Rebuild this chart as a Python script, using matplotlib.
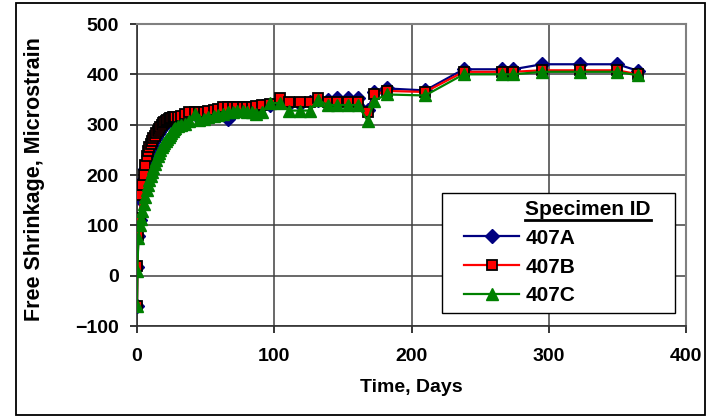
import matplotlib
matplotlib.use("Agg")
import matplotlib.pyplot as plt
from matplotlib.lines import Line2D
from matplotlib.patches import Rectangle

plt.rcParams['font.family'] = ['Liberation Sans', 'DejaVu Sans']

# days of reading
days = [0, 0.3, 1, 2, 3, 4, 5, 6, 7, 8, 9, 10, 11, 12, 13, 14, 15, 16, 17, 18,
        19, 20, 21, 22, 23, 24, 25, 26, 27, 28,
        30, 32, 35, 38, 42, 45, 49, 52, 56, 59, 63, 66, 70, 73, 77, 80, 84, 87, 91, 97,
        104, 111, 119, 126, 132, 139, 146, 154, 161, 168, 173, 182,
        210, 238, 266, 274, 295, 323, 350, 365]

s407A = [-60, 18, 78, 110, 150, 172, 192, 212, 228, 238, 246, 253, 260, 266, 271, 276, 281, 286, 290, 294,
         297, 300, 303, 305, 307, 309, 310, 311, 312, 313,
         314, 316, 318, 320, 322, 323, 324, 325, 326, 328, 330, 312, 332, 332, 333, 333, 334, 336, 338, 340,
         348, 342, 342, 345, 350, 350, 352, 352, 352, 330, 365, 372,
         368, 410, 410, 410, 420, 420, 420, 407]

s407B = [-60, 20, 80, 115, 160, 180, 200, 220, 238, 248, 255, 262, 268, 273, 278, 283, 288, 292, 296, 300,
         303, 306, 308, 310, 312, 313, 314, 315, 315, 316,
         316, 318, 322, 325, 325, 325, 325, 328, 330, 332, 335, 335, 335, 335, 335, 335, 335, 338, 340, 342,
         352, 345, 345, 345, 352, 345, 345, 345, 345, 325, 360, 367,
         365, 405, 405, 405, 408, 408, 408, 400]

s407C = [-60, 10, 75, 100, 112, 128, 143, 157, 170, 180, 190, 198, 206, 214, 222, 230, 237, 244, 250, 255,
         260, 264, 268, 272, 276, 280, 284, 288, 291, 294,
         297, 300, 302, 308, 322, 310, 312, 315, 318, 320, 322, 325, 325, 328, 328, 325, 325, 322, 325, 343,
         343, 328, 328, 328, 349, 339, 339, 339, 339, 308, 348, 360,
         358, 400, 400, 400, 405, 405, 405, 398]

styleA = dict(color='#000080', lw=1.6, marker='D', ms=7, mfc='#000080', mec='#000080')
styleB = dict(color='red', lw=1.6, marker='s', ms=7, mfc='red', mec='black', mew=1.3)
styleC = dict(color='#008000', lw=1.6, marker='^', ms=8.5, mfc='#008000', mec='#008000')

fig = plt.figure(figsize=(7.1, 4.19), dpi=100)
ax = fig.add_axes([137/710, 1-326/419, (686-137)/710, (326-24)/419])

ax.plot(days, s407A, label='407A', zorder=3, **styleA)
ax.plot(days, s407B, label='407B', zorder=4, **styleB)
ax.plot(days, s407C, label='407C', zorder=5, **styleC)

ax.set_xlim(0, 400)
ax.set_ylim(-100, 500)
ax.set_xticks([0, 100, 200, 300, 400])
ax.set_yticks([-100, 0, 100, 200, 300, 400, 500])
ax.grid(True, color='#404040', lw=1.1)
ax.set_axisbelow(True)
for side in ['top', 'right']:
    ax.spines[side].set_color('#808080')
    ax.spines[side].set_linewidth(1.5)
for side in ['left', 'bottom']:
    ax.spines[side].set_color('#303030')
    ax.spines[side].set_linewidth(1.2)
ax.tick_params(axis='y', direction='out', length=5, width=1.1, pad=8, labelsize=14)
ax.tick_params(axis='x', direction='out', length=5, width=1.1, pad=11, labelsize=14)
for t in ax.get_xticklabels() + ax.get_yticklabels():
    t.set_fontweight('bold')

ax.set_xlabel('Time, Days', fontsize=14, fontweight='bold')
ax.set_ylabel('Free Shrinkage, Microstrain', fontsize=15.5, fontweight='bold')
ax.xaxis.set_label_coords(0.5, -0.175)
ax.yaxis.set_label_coords(-0.168, 0.485)

# legend box drawn by hand, entries placed inside
fig.add_artist(Rectangle((442/710, 1-313/419), (675-442)/710, (313-193)/419, facecolor='white',
                         edgecolor='black', lw=1.0, transform=fig.transFigure, zorder=8))
blank = Line2D([], [], linestyle='none')
leg = fig.legend([blank, Line2D([], [], **styleA), Line2D([], [], **styleB), Line2D([], [], **styleC)],
                 ['Specimen ID', '407A', '407B', '407C'],
                 loc='upper left', bbox_to_anchor=(464/710, 1-200/419), borderaxespad=0,
                 prop={'weight': 'bold', 'size': 15}, handlelength=2.65, handletextpad=0.3,
                 labelspacing=0.47, borderpad=0, frameon=False)
leg.set_zorder(9)

# underline the legend heading
fig.canvas.draw()
bb = leg.get_texts()[0].get_window_extent()
y0 = bb.y0 - 1
fig.add_artist(Line2D([bb.x0 / 710, bb.x1 / 710], [y0 / 419, y0 / 419], color='black', lw=2, zorder=10))

# outer chart border
fig.add_artist(Rectangle((16/710, 1-415/419), (705-16)/710, (415-3)/419, fill=False,
                         edgecolor='black', lw=1.3, transform=fig.transFigure))

fig.savefig('out.png', dpi=100)
